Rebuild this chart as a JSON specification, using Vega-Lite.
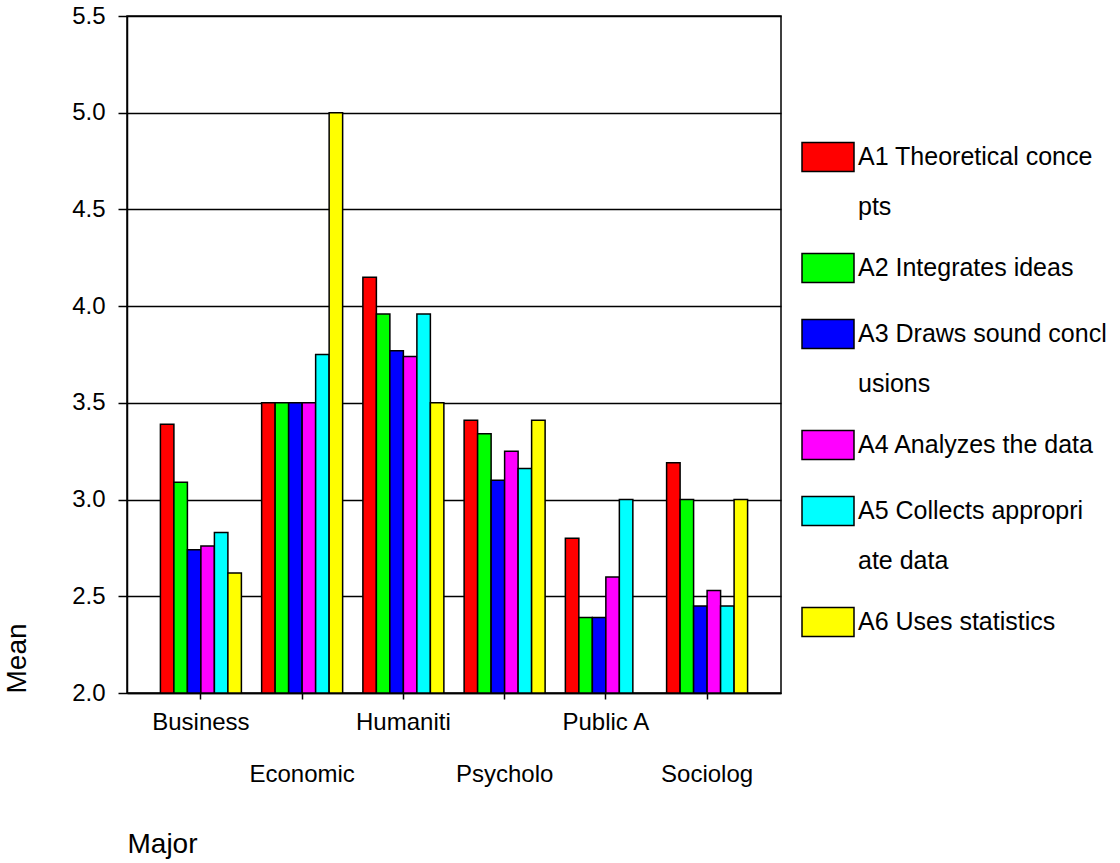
{
  "$schema": "https://vega.github.io/schema/vega-lite/v6.json",
  "width": 654,
  "height": 677,
  "autosize": {"type": "none"},
  "padding": {"left": 127, "top": 16, "right": 339, "bottom": 170},
  "background": "white",
  "data": {
    "values": [
      {"major": "Business", "item": "A1 Theoretical concepts", "mean": 3.39},
      {"major": "Business", "item": "A2 Integrates ideas", "mean": 3.09},
      {"major": "Business", "item": "A3 Draws sound conclusions", "mean": 2.74},
      {"major": "Business", "item": "A4 Analyzes the data", "mean": 2.76},
      {"major": "Business", "item": "A5 Collects appropriate data", "mean": 2.83},
      {"major": "Business", "item": "A6 Uses statistics", "mean": 2.62},
      {"major": "Economic", "item": "A1 Theoretical concepts", "mean": 3.5},
      {"major": "Economic", "item": "A2 Integrates ideas", "mean": 3.5},
      {"major": "Economic", "item": "A3 Draws sound conclusions", "mean": 3.5},
      {"major": "Economic", "item": "A4 Analyzes the data", "mean": 3.5},
      {"major": "Economic", "item": "A5 Collects appropriate data", "mean": 3.75},
      {"major": "Economic", "item": "A6 Uses statistics", "mean": 5.0},
      {"major": "Humaniti", "item": "A1 Theoretical concepts", "mean": 4.15},
      {"major": "Humaniti", "item": "A2 Integrates ideas", "mean": 3.96},
      {"major": "Humaniti", "item": "A3 Draws sound conclusions", "mean": 3.77},
      {"major": "Humaniti", "item": "A4 Analyzes the data", "mean": 3.74},
      {"major": "Humaniti", "item": "A5 Collects appropriate data", "mean": 3.96},
      {"major": "Humaniti", "item": "A6 Uses statistics", "mean": 3.5},
      {"major": "Psycholo", "item": "A1 Theoretical concepts", "mean": 3.41},
      {"major": "Psycholo", "item": "A2 Integrates ideas", "mean": 3.34},
      {"major": "Psycholo", "item": "A3 Draws sound conclusions", "mean": 3.1},
      {"major": "Psycholo", "item": "A4 Analyzes the data", "mean": 3.25},
      {"major": "Psycholo", "item": "A5 Collects appropriate data", "mean": 3.16},
      {"major": "Psycholo", "item": "A6 Uses statistics", "mean": 3.41},
      {"major": "Public A", "item": "A1 Theoretical concepts", "mean": 2.8},
      {"major": "Public A", "item": "A2 Integrates ideas", "mean": 2.39},
      {"major": "Public A", "item": "A3 Draws sound conclusions", "mean": 2.39},
      {"major": "Public A", "item": "A4 Analyzes the data", "mean": 2.6},
      {"major": "Public A", "item": "A5 Collects appropriate data", "mean": 3.0},
      {"major": "Sociolog", "item": "A1 Theoretical concepts", "mean": 3.19},
      {"major": "Sociolog", "item": "A2 Integrates ideas", "mean": 3.0},
      {"major": "Sociolog", "item": "A3 Draws sound conclusions", "mean": 2.45},
      {"major": "Sociolog", "item": "A4 Analyzes the data", "mean": 2.53},
      {"major": "Sociolog", "item": "A5 Collects appropriate data", "mean": 2.45},
      {"major": "Sociolog", "item": "A6 Uses statistics", "mean": 3.0}
    ]
  },
  "mark": {"type": "bar", "stroke": "black", "strokeWidth": 1.5},
  "encoding": {
    "x": {
      "field": "major",
      "type": "nominal",
      "sort": null,
      "title": "Major",
      "scale": {"paddingInner": 0.2, "paddingOuter": 0.33},
      "axis": {
        "domain": true, "domainColor": "black", "domainWidth": 1.5,
        "ticks": true, "tickColor": "black", "tickSize": 6, "tickWidth": 1.5,
        "grid": false,
        "labelAngle": 0, "labelFont": "Liberation Sans", "labelFontSize": 24, "labelColor": "black",
        "labelPadding": 11, "labelBaseline": "top", "labelLineHeight": 52, "labelLimit": 0,
        "labelExpr": "indexof(['Economic','Psycholo','Sociolog'], datum.value) >= 0 ? ['', datum.label] : datum.label",
        "titleAnchor": "start", "titleAlign": "left", "titleFont": "Liberation Sans", "titleFontSize": 28,
        "titleFontWeight": "normal", "titleColor": "black", "titlePadding": 44
      }
    },
    "xOffset": {
      "field": "item",
      "type": "nominal",
      "sort": null,
      "scale": {"paddingInner": 0, "paddingOuter": 0}
    },
    "y": {
      "field": "mean",
      "type": "quantitative",
      "title": "Mean",
      "scale": {"domain": [2, 5.5], "zero": false, "nice": false},
      "axis": {
        "values": [2, 2.5, 3, 3.5, 4, 4.5, 5, 5.5],
        "format": ".1f",
        "domain": true, "domainColor": "black", "domainWidth": 1.5,
        "ticks": true, "tickColor": "black", "tickSize": 9, "tickWidth": 1.5,
        "grid": true, "gridColor": "black", "gridWidth": 1.5, "gridOpacity": 1,
        "labelFont": "Liberation Sans", "labelFontSize": 24, "labelColor": "black", "labelPadding": 13,
        "titleAnchor": "start", "titleFont": "Liberation Sans", "titleFontSize": 28,
        "titleFontWeight": "normal", "titleColor": "black", "titlePadding": 40
      }
    },
    "y2": {"datum": 2},
    "fill": {
      "field": "item",
      "type": "nominal",
      "sort": null,
      "scale": {
        "domain": ["A1 Theoretical concepts", "A2 Integrates ideas", "A3 Draws sound conclusions", "A4 Analyzes the data", "A5 Collects appropriate data", "A6 Uses statistics"],
        "range": ["#FF0000", "#00FF00", "#0000FF", "#FF00FF", "#00FFFF", "#FFFF00"]
      },
      "legend": {
        "orient": "none", "legendX": 674, "legendY": 114, "title": null, "padding": 0,
        "symbolType": "M-1,-0.56H1V0.56H-1Z", "symbolSize": 2704,
        "symbolStrokeColor": "black", "symbolStrokeWidth": 1.5, "symbolOpacity": 1,
        "labelFont": "Liberation Sans", "labelFontSize": 25, "labelColor": "black",
        "labelOffset": 3, "labelLimit": 400, "rowPadding": 21,
        "labelExpr": "datum.label == 'A1 Theoretical concepts' ? ['A1 Theoretical conce','pts'] : datum.label == 'A3 Draws sound conclusions' ? ['A3 Draws sound concl','usions'] : datum.label == 'A5 Collects appropriate data' ? ['A5 Collects appropri','ate data'] : datum.label"
      }
    }
  },
  "config": {
    "view": {"stroke": "black", "strokeWidth": 1.5},
    "style": {"guide-label": {"lineHeight": 50}}
  }
}
